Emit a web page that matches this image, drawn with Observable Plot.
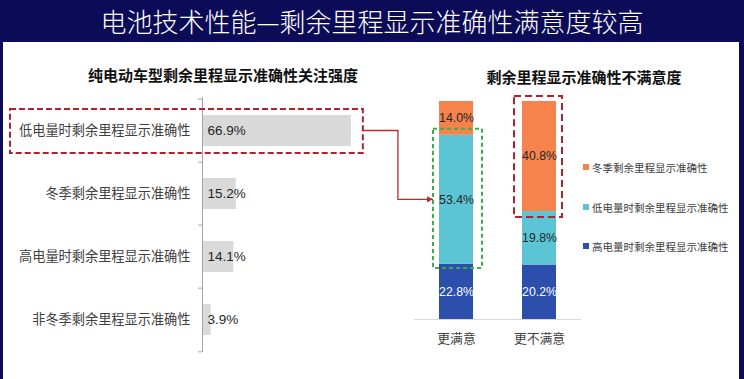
<!DOCTYPE html>
<html><head><meta charset="utf-8">
<script src="https://cdn.jsdelivr.net/npm/d3@7"></script>
<script src="https://cdn.jsdelivr.net/npm/@observablehq/plot@0.6"></script>
<style>
html,body{margin:0;padding:0;background:#fff;}
#root{position:relative;width:744px;height:379px;background:#0b0b58;overflow:hidden;font-family:"Liberation Sans","Noto Sans CJK SC",sans-serif;}
#title{position:absolute;left:0;top:0;width:744px;height:42px;line-height:42px;text-align:center;color:#fff;font-family:"Noto Sans CJK SC",sans-serif;font-weight:300;font-size:26px;white-space:nowrap;}
#panel{position:absolute;left:3px;top:42px;width:736px;height:337px;background:#fff;}
.sub{position:absolute;font-family:"Noto Sans CJK SC",sans-serif;font-weight:bold;font-size:15px;color:#111;white-space:nowrap;transform:translate(-50%,-50%);}
.leg{position:absolute;font-family:"Noto Sans CJK SC",sans-serif;font-size:10.5px;color:#404040;white-space:nowrap;transform:translateY(-50%);}
.sw{position:absolute;width:6px;height:6px;transform:translateY(-50%);}
</style></head>
<body>
<div id="root">
  <div id="title"></div>
  <div id="panel"></div>
</div>
<script>
// ---- data ----
const titleText = "电池技术性能—剩余里程显示准确性满意度较高";
const leftTitle = "纯电动车型剩余里程显示准确性关注强度";
const rightTitle = "剩余里程显示准确性不满意度";
const focusCategories = ["低电量时剩余里程显示准确性", "冬季剩余里程显示准确性", "高电量时剩余里程显示准确性", "非冬季剩余里程显示准确性"];
const focusValues = [66.9, 15.2, 14.1, 3.9];
const groups = ["更满意", "更不满意"];
const seriesNames = ["高电量时剩余里程显示准确性", "低电量时剩余里程显示准确性", "冬季剩余里程显示准确性"]; // bottom -> top
const highValues = [22.8, 20.2];
const lowValues = [53.4, 19.8];
const winterValues = [14.0, 40.8];
const legendOrder = ["冬季剩余里程显示准确性", "低电量时剩余里程显示准确性", "高电量时剩余里程显示准确性"];

// ---- styles ----
const FONT = "'Liberation Sans','Noto Sans CJK SC',sans-serif";
const seriesColors = ["#2b4fab", "#5bc5d6", "#f5834b"];
const root = document.getElementById("root");
document.getElementById("title").textContent = titleText;

function addDiv(cls, text, x, y) {
  const d = document.createElement("div");
  d.className = cls; d.textContent = text;
  d.style.left = x + "px"; d.style.top = y + "px";
  root.appendChild(d); return d;
}
addDiv("sub", leftTitle, 223, 74);
addDiv("sub", rightTitle, 584, 76);

// ---- left chart ----
const LX = 0, LY = 42, LW = 380, LH = 330, LMT = 55, LMB = 20, LML = 202;
const focus = focusCategories.map((c, i) => ({cat: c, v: focusValues[i]}));
const bandH = (LH - LMT - LMB) / focusCategories.length;
const left = Plot.plot({
  width: LW, height: LH, marginLeft: LML, marginRight: 0, marginTop: LMT, marginBottom: LMB,
  x: {domain: [0, 80], axis: null},
  y: {domain: focusCategories, padding: 0, axis: null},
  style: {background: "transparent", fontFamily: FONT, overflow: "visible"},
  marks: [
    Plot.barX(focus, {x: "v", y: "cat", fill: "#d9d9d9", insetTop: 16, insetBottom: 16}),
    Plot.ruleX([0], {stroke: "#a6a6a6"}),
    Plot.ruleY(focusCategories, {y: d => d, x1: () => -1.8, x2: () => 0, dy: -bandH / 2, stroke: "#a6a6a6"}),
    Plot.ruleY([focusCategories[focusCategories.length - 1]], {y: d => d, x1: () => -1.8, x2: () => 0, dy: bandH / 2, stroke: "#a6a6a6"}),
    Plot.text(focus, {x: () => 0, y: "cat", text: "cat", textAnchor: "end", dx: -12, fontSize: 13.2, fill: "#404040"}),
    Plot.text(focus, {x: () => 0, y: "cat", text: d => d.v.toFixed(1) + "%", textAnchor: "start", dx: 5, fontSize: 13.5, fill: "#262626"}),
    Plot.barX(focus.slice(0, 1), {x1: () => 0, x2: "v", y: "cat", fill: "none", stroke: "#b5212b", strokeWidth: 2, strokeDasharray: "6,3",
      insetLeft: -192, insetRight: -12, insetTop: 10, insetBottom: 9})
  ]
});
Object.assign(left.style, {position: "absolute", left: LX + "px", top: LY + "px"});
root.appendChild(left);

// ---- right chart ----
const RX = 400, RY = 42, RW = 200, RH = 337, RMT = 59, RMB = 60, RML = 14, RMR = 19;
const seriesValues = [highValues, lowValues, winterValues];
const rows = groups.flatMap((g, i) => seriesNames.map((s, j) => ({group: g, series: s, v: seriesValues[j][i]})));
const totals = groups.map((g, i) => d3.sum(seriesValues, a => a[i]));
const stackOpts = {x: "group", y: "v", offset: "normalize"};
const greenBox = [{g: groups[0], y1: highValues[0] / totals[0], y2: (highValues[0] + lowValues[0]) / totals[0]}];
const redBox = [{g: groups[1], y1: (highValues[1] + lowValues[1]) / totals[1], y2: 1}];
const right = Plot.plot({
  width: RW, height: RH, marginLeft: RML, marginRight: RMR, marginTop: RMT, marginBottom: RMB,
  x: {domain: groups, paddingInner: 0.59, paddingOuter: 0.3, axis: null},
  y: {domain: [0, 1], axis: null},
  color: {domain: seriesNames, range: seriesColors},
  style: {background: "transparent", fontFamily: FONT, overflow: "visible"},
  marks: [
    Plot.ruleY([0], {stroke: "#d9d9d9"}),
    Plot.barY(rows, Plot.stackY({...stackOpts, fill: "series"})),
    Plot.text(rows, Plot.stackY({...stackOpts, text: d => d.v.toFixed(1) + "%",
      fill: d => d.series === seriesNames[0] ? "#ffffff" : "#262626", fontSize: 12.3})),
    Plot.text(groups, {x: d => d, y: () => 0, dy: 19, fontSize: 12.8, fill: "#404040"}),
    Plot.barY(greenBox, {x: "g", y1: "y1", y2: "y2", fill: "none", stroke: "#3bae4a", strokeWidth: 2, strokeDasharray: "4,3",
      insetLeft: -6, insetRight: -9, insetTop: -6, insetBottom: -4}),
    Plot.barY(redBox, {x: "g", y1: "y1", y2: "y2", fill: "none", stroke: "#b5212b", strokeWidth: 2, strokeDasharray: "7,4",
      insetLeft: -8, insetRight: -6, insetTop: -5, insetBottom: -6})
  ]
});
Object.assign(right.style, {position: "absolute", left: RX + "px", top: RY + "px"});
root.appendChild(right);

// ---- legend ----
const legendY = [167, 207, 246];
legendOrder.forEach((name, i) => {
  const sw = document.createElement("div");
  sw.className = "sw";
  sw.style.left = "583px"; sw.style.top = legendY[i] + "px";
  sw.style.background = seriesColors[seriesNames.indexOf(name)];
  root.appendChild(sw);
  addDiv("leg", name, 592, legendY[i]);
});

// ---- connector arrow ----
const lx = left.scale("x"), ly = left.scale("y"), rx = right.scale("x"), ry = right.scale("y");
const sx = LX + lx.apply(focusValues[0]) + 12;
const sy = LY + ly.apply(focusCategories[0]) + ly.bandwidth / 2;
const ex = RX + rx.apply(groups[0]) - 6;
const ey = RY + ry.apply((highValues[0] + lowValues[0] / 2) / totals[0]);
const mx = (sx + ex) / 2;
const ov = d3.create("svg").attr("width", 744).attr("height", 379)
  .style("position", "absolute").style("left", "0px").style("top", "0px").style("pointer-events", "none");
ov.append("defs").append("marker").attr("id", "ah").attr("viewBox", "0 0 10 10")
  .attr("refX", 10).attr("refY", 5).attr("markerWidth", 6).attr("markerHeight", 6)
  .attr("markerUnits", "userSpaceOnUse").attr("orient", "auto")
  .append("path").attr("d", "M0,0L10,5L0,10Z").attr("fill", "#c0282f");
ov.append("path").attr("d", `M${sx},${sy}H${mx}V${ey}H${ex}`)
  .attr("fill", "none").attr("stroke", "#c0282f").attr("stroke-width", 1.3).attr("marker-end", "url(#ah)");
root.appendChild(ov.node());
</script>
</body></html>
